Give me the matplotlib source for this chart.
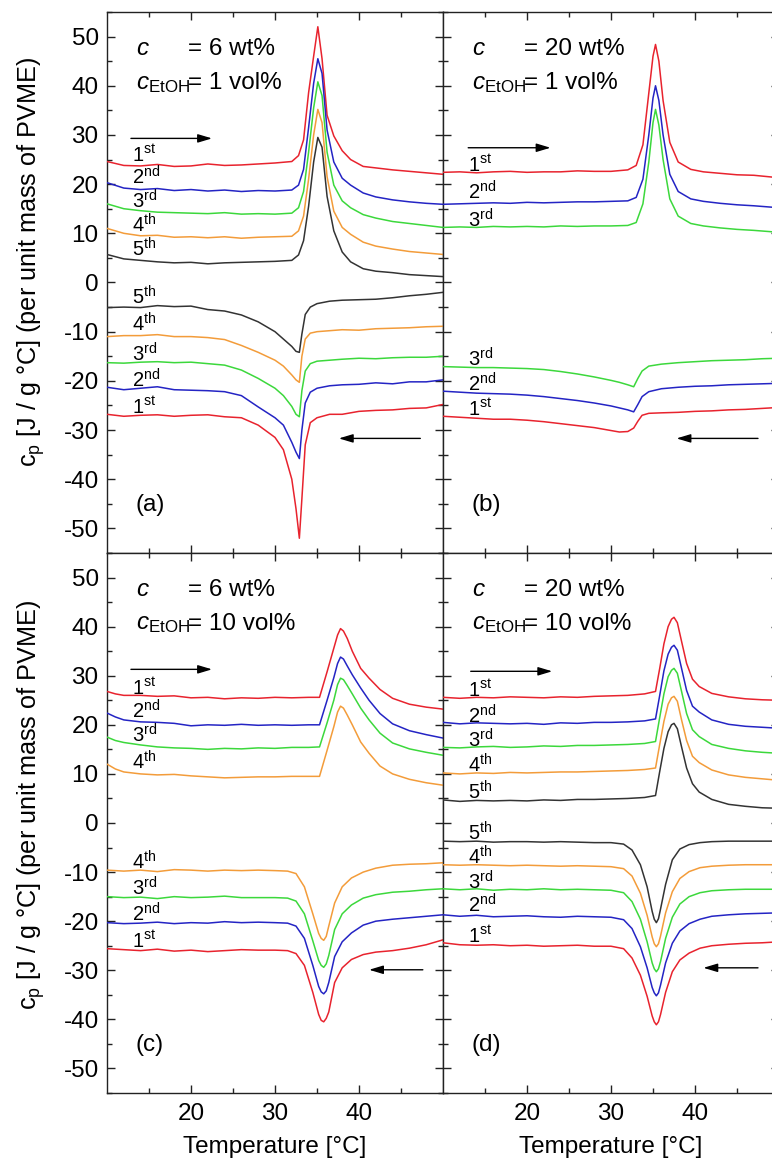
import matplotlib
matplotlib.use("Agg")
import matplotlib.pyplot as plt
from matplotlib.ticker import MultipleLocator, FixedLocator

# ======================================
# Data
# ======================================
# (a) c = 6 wt%, EtOH 1 vol%
xa_h = [10, 12, 14, 16, 18, 20, 22, 24, 26, 28, 30, 32, 32.8, 33.4, 34.0, 34.6, 35.1, 35.6,
        36.2, 37.0, 38.0, 39.0, 40.5, 42, 44, 46, 48, 50]
a_heat_1 = [24.6, 23.8, 23.7, 24.0, 23.6, 23.7, 24.1, 23.8, 23.9, 24.1, 24.3, 24.6, 25.8, 29.0,
            38.6, 46.0, 52.0, 45.5, 34.0, 29.8, 26.8, 25.0, 23.6, 23.3, 22.9, 22.6, 22.3, 22.0]
a_heat_2 = [20.3, 19.2, 18.9, 19.1, 18.7, 18.9, 18.6, 18.8, 18.5, 18.7, 18.6, 18.8, 19.8, 23.0,
            31.5, 40.5, 45.5, 42.5, 31.0, 24.5, 21.2, 19.8, 18.2, 17.4, 16.8, 16.4, 16.1, 15.9]
a_heat_3 = [16.0, 15.0, 14.6, 14.3, 14.2, 14.1, 14.0, 14.2, 13.9, 14.0, 13.9, 14.1, 15.2, 18.5,
            26.5, 35.5, 40.8, 38.0, 26.5, 19.8, 16.6, 15.2, 13.8, 13.1, 12.4, 12.0, 11.6, 11.2]
a_heat_4 = [11.0, 10.0, 9.5, 9.6, 9.2, 9.3, 9.1, 9.3, 9.0, 9.2, 9.3, 9.4, 10.5, 13.5,
            21.0, 30.0, 35.2, 32.5, 21.5, 14.5, 11.2, 9.8, 8.2, 7.4, 6.8, 6.3, 6.0, 5.7]
a_heat_5 = [5.7, 4.8, 4.5, 4.2, 4.0, 4.1, 3.8, 4.0, 4.1, 4.2, 4.3, 4.5, 5.6, 8.5,
            15.5, 24.5, 29.5, 27.5, 17.5, 10.5, 6.2, 4.2, 2.8, 2.3, 2.0, 1.6, 1.4, 1.2]

xa_c = [10, 12, 14, 16, 18, 20, 22, 24, 26, 28, 30, 31, 32, 32.5, 32.9, 33.2, 33.6, 34.2, 35,
        36.5, 38, 40, 42, 44, 46, 48, 50]
a_cool_1 = [-26.8, -27.2, -27.0, -26.9, -27.2, -27.0, -26.9, -27.3, -27.5, -29.0, -31.5, -34.0,
            -40.0, -46.0, -52.0, -44.0, -33.0, -28.5, -27.5, -26.8, -26.8, -26.2, -26.0, -25.9,
            -25.6, -25.5, -24.8]
a_cool_2 = [-21.3, -21.8, -21.5, -21.2, -21.8, -21.9, -22.0, -22.2, -23.0, -25.3, -27.5, -29.0,
            -32.5, -34.5, -35.8, -30.0, -24.5, -22.3, -21.5, -21.0, -20.8, -20.7, -20.4, -20.6,
            -20.2, -20.2, -19.8]
a_cool_3 = [-16.3, -16.4, -16.2, -16.1, -16.3, -16.2, -16.5, -16.8, -17.8, -19.5, -21.5, -23.0,
            -25.2, -26.8, -27.3, -22.0, -18.0, -16.5, -16.0, -15.8, -15.6, -15.4, -15.5, -15.3,
            -15.2, -15.2, -15.0]
a_cool_4 = [-11.0, -10.8, -10.8, -10.6, -11.0, -11.0, -11.2, -11.6, -12.8, -14.2, -15.8, -17.0,
            -18.8, -19.8, -20.3, -15.0, -11.5, -10.3, -10.0, -9.8, -9.6, -9.7, -9.4, -9.3,
            -9.2, -9.0, -8.9]
a_cool_5 = [-5.1, -5.0, -5.1, -4.7, -4.9, -4.8, -5.5, -5.8, -6.6, -8.0, -10.0, -11.5,
            -13.0, -14.0, -14.2, -10.5, -6.5, -5.0, -4.3, -3.8, -3.6, -3.5, -3.4, -3.1,
            -2.7, -2.4, -2.0]

# (b) c = 20 wt%, EtOH 1 vol%
xb_h = [10, 12, 14, 16, 18, 20, 22, 24, 26, 28, 30, 32, 33, 33.8, 34.5, 35.0, 35.3, 35.7, 36.2,
        37, 38, 39.5, 41, 43, 45, 47, 50]
b_heat_1 = [22.4, 22.5, 22.3, 22.5, 22.6, 22.4, 22.5, 22.5, 22.7, 22.6, 22.6, 22.9, 23.8, 28.0,
            38.5, 46.0, 48.4, 45.0, 37.0, 28.5, 24.5, 23.0, 22.5, 22.2, 21.9, 21.8, 21.3]
b_heat_2 = [15.9, 16.0, 16.1, 16.2, 16.1, 16.3, 16.2, 16.3, 16.4, 16.4, 16.5, 16.6, 17.3, 21.0,
            30.0, 37.5, 40.0, 37.0, 30.0, 22.0, 18.5, 17.0, 16.5, 16.1, 15.8, 15.6, 15.2]
b_heat_3 = [11.2, 11.3, 11.2, 11.4, 11.3, 11.4, 11.3, 11.5, 11.4, 11.5, 11.5, 11.6, 12.2, 16.0,
            24.5, 32.5, 35.2, 32.0, 25.0, 17.0, 13.5, 12.0, 11.5, 11.1, 10.8, 10.6, 10.2]

xb_c = [10, 12, 14, 16, 18, 20, 22, 24, 26, 28, 30, 31, 32, 32.7, 33.2, 33.7, 34.5, 36, 38, 40,
        42, 44, 46, 48, 50]
b_cool_1 = [-27.2, -27.4, -27.6, -27.8, -27.8, -28.0, -28.3, -28.7, -29.1, -29.5, -30.1, -30.4,
            -30.3, -29.6, -28.2, -27.0, -26.6, -26.5, -26.4, -26.2, -26.1, -25.9, -25.8, -25.6, -25.4]
b_cool_2 = [-22.1, -22.3, -22.5, -22.6, -22.7, -22.9, -23.2, -23.6, -24.0, -24.5, -25.1, -25.5,
            -25.9, -26.3, -24.8, -23.2, -22.2, -21.6, -21.3, -21.1, -21.0, -20.8, -20.7, -20.6, -20.5]
b_cool_3 = [-17.1, -17.2, -17.3, -17.3, -17.4, -17.5, -17.7, -18.1, -18.6, -19.2, -19.9, -20.3,
            -20.8, -21.2, -19.5, -18.0, -17.0, -16.6, -16.3, -16.1, -15.9, -15.8, -15.7, -15.5, -15.4]

# (c) c = 6 wt%, EtOH 10 vol%
xc_h = [10, 11, 12, 14, 16, 18, 20, 22, 24, 26, 28, 30, 32, 34, 35.3, 36.2, 37.0, 37.45, 37.8,
        38.15, 38.6, 39.2, 40.2, 41.2, 42.5, 44, 46, 48, 50]
c_heat_1 = [26.8, 26.3, 26.0, 26.0, 25.8, 25.9, 25.5, 25.6, 25.3, 25.5, 25.4, 25.6, 25.5, 25.6,
            25.6, 30.8, 35.6, 38.3, 39.6, 39.1, 37.6, 35.0, 31.5, 29.5, 27.2, 25.4, 24.2, 23.6, 23.2]
c_heat_2 = [22.4, 21.6, 21.0, 20.6, 20.5, 20.3, 19.8, 20.0, 19.9, 20.1, 19.9, 20.0, 19.9, 20.0,
            20.0, 25.0, 29.6, 32.5, 33.8, 33.4, 32.0, 30.2, 27.5, 25.0, 22.3, 20.2, 18.8, 18.0, 17.3]
c_heat_3 = [17.5, 16.8, 16.4, 15.9, 15.5, 15.3, 15.2, 15.0, 15.2, 15.1, 15.3, 15.2, 15.4, 15.4,
            15.5, 20.4, 25.0, 28.2, 29.5, 29.2, 28.0, 26.3, 23.4, 21.0, 18.3, 16.3, 15.1, 14.4, 13.8]
c_heat_4 = [12.0, 11.0, 10.4, 10.0, 9.8, 9.9, 9.6, 9.4, 9.2, 9.3, 9.4, 9.4, 9.5, 9.5,
            9.5, 14.8, 19.6, 22.6, 23.8, 23.4, 22.0, 20.0, 16.5, 14.2, 11.6, 10.0, 8.9, 8.2, 7.7]

xc_c = [10, 12, 14, 16, 18, 20, 22, 24, 26, 28, 30, 31.5, 32.5, 33.5, 34.5, 35.2, 35.5, 35.8,
        36.1, 36.4, 37.1, 38, 39.1, 40.5, 42, 44, 46, 48, 50]
c_cool_1 = [-25.6, -25.8, -26.0, -25.7, -26.1, -25.9, -26.2, -26.0, -25.8, -25.9, -25.9, -26.0,
            -26.6, -29.0, -34.5, -39.0, -40.2, -40.5, -39.8, -38.5, -32.5, -29.5, -27.8, -26.8,
            -26.3, -26.0, -25.5, -24.8, -23.8]
c_cool_2 = [-20.3, -20.5, -20.4, -20.2, -20.5, -20.3, -20.4, -20.1, -20.3, -20.2, -20.3, -20.4,
            -21.0, -23.5, -29.0, -33.3, -34.4, -34.8, -34.2, -32.5, -27.2, -24.2, -22.4, -20.8,
            -20.0, -19.6, -19.3, -19.0, -18.7]
c_cool_3 = [-15.0, -15.2, -15.1, -15.4, -15.0, -15.2, -15.1, -14.9, -15.2, -15.2, -15.2, -15.3,
            -15.9, -18.5, -24.0, -28.0, -29.0, -29.4, -28.7, -27.0, -21.7, -18.5, -16.7, -15.3,
            -14.6, -14.1, -13.9, -13.6, -13.4]
c_cool_4 = [-9.6, -9.8, -9.6, -9.9, -9.5, -9.6, -9.8, -9.6, -9.7, -9.6, -9.7, -9.8,
            -10.3, -13.0, -18.5, -22.5, -23.5, -23.9, -23.1, -21.0, -16.3, -13.0, -11.2, -10.0,
            -9.2, -8.6, -8.4, -8.3, -8.1]

# (d) c = 20 wt%, EtOH 10 vol%
xd_h = [10, 12, 14, 16, 18, 20, 22, 24, 26, 28, 30, 32, 34, 35.3, 35.8, 36.3, 36.8, 37.2, 37.5,
        37.9, 38.4, 39.0, 39.7, 40.5, 42, 44, 46, 48, 50]
d_heat_1 = [25.6, 25.4, 25.6, 25.5, 25.7, 25.6, 25.5, 25.7, 25.6, 25.8, 25.9, 26.0, 26.3, 26.8,
            31.5, 36.5, 40.0, 41.5, 41.9, 40.8, 37.0, 32.5, 29.3, 27.8, 26.4, 25.7, 25.3, 25.1, 25.0]
d_heat_2 = [20.5, 20.2, 20.4, 20.3, 20.2, 20.3, 20.1, 20.4, 20.3, 20.5, 20.5, 20.6, 20.8, 21.2,
            26.0, 31.0, 34.4, 35.8, 36.2, 35.2, 31.5, 27.0, 23.8, 22.6, 21.0, 20.1, 19.7, 19.5, 19.3]
d_heat_3 = [15.4, 15.3, 15.5, 15.6, 15.4, 15.5, 15.7, 15.6, 15.8, 15.8, 15.9, 16.0, 16.2, 16.6,
            21.5, 26.3, 29.8, 31.1, 31.5, 30.5, 26.8, 22.3, 19.0, 17.6, 16.0, 15.2, 14.7, 14.4, 14.2]
d_heat_4 = [10.2, 10.0, 10.2, 10.1, 10.3, 10.2, 10.3, 10.4, 10.4, 10.5, 10.6, 10.7, 10.9, 11.2,
            16.0, 20.7, 24.2, 25.5, 25.8, 24.8, 21.0, 16.8, 13.6, 12.3, 10.8, 9.8, 9.3, 9.0, 8.7]
d_heat_5 = [4.7, 4.4, 4.6, 4.5, 4.6, 4.5, 4.7, 4.6, 4.8, 4.8, 4.9, 5.0, 5.2, 5.6,
            10.5, 15.2, 18.6, 20.0, 20.3, 19.2, 15.5, 11.2, 8.0, 6.3, 4.8, 3.8, 3.4, 3.1, 3.0]

xd_c = [10, 12, 14, 16, 18, 20, 22, 24, 26, 28, 30, 31.5, 32.5, 33.5, 34.3, 34.9, 35.15, 35.4,
        35.65, 35.9, 36.5, 37.3, 38.2, 39.3, 40.6, 42, 44, 46, 48, 50]
d_cool_1 = [-24.4, -24.8, -24.9, -24.8, -25.0, -24.9, -25.1, -25.0, -24.9, -25.1, -25.1, -25.6,
            -27.5, -31.0, -35.3, -39.3, -40.5, -41.1, -40.5, -39.0, -34.5, -30.3, -27.9, -26.5,
            -25.5, -25.0, -24.7, -24.5, -24.4, -24.2]
d_cool_2 = [-18.7, -19.0, -18.8, -19.1, -19.0, -18.9, -19.1, -19.2, -19.0, -19.1, -19.2, -19.7,
            -21.5, -25.2, -29.5, -33.5, -34.6, -35.2, -34.6, -33.0, -28.5, -24.5, -22.0, -20.5,
            -19.6, -19.0, -18.7, -18.5, -18.4, -18.3]
d_cool_3 = [-13.4, -13.6, -13.4, -13.7, -13.5, -13.6, -13.4, -13.6, -13.5, -13.6, -13.7, -14.2,
            -16.0, -19.6, -24.2, -28.5, -29.7, -30.3, -29.7, -28.2, -23.5, -19.2, -16.5, -15.0,
            -14.2, -13.8, -13.6, -13.5, -13.5, -13.5]
d_cool_4 = [-8.5, -8.6, -8.5, -8.6, -8.7, -8.6, -8.7, -8.8, -8.7, -8.8, -8.9, -9.3,
            -10.8, -14.3, -18.8, -23.2, -24.6, -25.2, -24.6, -23.0, -18.3, -14.0, -11.3, -9.9,
            -9.1, -8.8, -8.6, -8.5, -8.5, -8.5]
d_cool_5 = [-3.7, -3.8, -3.7, -3.9, -3.8, -3.8, -3.9, -3.8, -3.9, -4.0, -4.0, -4.3,
            -5.5, -8.5, -13.0, -18.0, -19.6, -20.3, -19.5, -17.5, -12.5, -7.5, -5.3, -4.4,
            -4.0, -3.8, -3.7, -3.7, -3.7, -3.7]

run_names = [r"1$^{\rm st}$", r"2$^{\rm nd}$", r"3$^{\rm rd}$", r"4$^{\rm th}$", r"5$^{\rm th}$"]
conc_texts = ["= 6 wt%", "= 20 wt%", "= 6 wt%", "= 20 wt%"]
etoh_texts = ["= 1 vol%", "= 1 vol%", "= 10 vol%", "= 10 vol%"]
panel_tags = ["(a)", "(b)", "(c)", "(d)"]

# ======================================
# Style
# ======================================
plt.rcParams.update({
    "font.family": ["Liberation Sans", "DejaVu Sans"],
    "font.size": 17,
    "mathtext.fontset": "custom",
    "mathtext.rm": "Liberation Sans",
    "mathtext.it": "Liberation Sans:italic",
    "axes.unicode_minus": False,
})

run_colors = ["#e8232e", "#2424c4", "#3cd83c", "#f39c3a", "#333333"]

# ======================================
# Layout (2 x 2, panels touching, right column cut at the image edge)
# ======================================
W_px, H_px = 772, 1162
fig = plt.figure(figsize=(W_px / 100, H_px / 100), dpi=100, facecolor="white")

ax_w = 336 / W_px
x_left = 107 / W_px
x_right = 443 / W_px
top_b, top_h = 1 - 553 / H_px, 541 / H_px
bot_b, bot_h = 1 - 1093 / H_px, 540 / H_px

ax_a = fig.add_axes([x_left, top_b, ax_w, top_h])
ax_b = fig.add_axes([x_right, top_b, ax_w, top_h])
ax_c = fig.add_axes([x_left, bot_b, ax_w, bot_h])
ax_d = fig.add_axes([x_right, bot_b, ax_w, bot_h])

panels = [
    (ax_a, xa_h, [a_heat_1, a_heat_2, a_heat_3, a_heat_4, a_heat_5],
     xa_c, [a_cool_1, a_cool_2, a_cool_3, a_cool_4, a_cool_5]),
    (ax_b, xb_h, [b_heat_1, b_heat_2, b_heat_3],
     xb_c, [b_cool_1, b_cool_2, b_cool_3]),
    (ax_c, xc_h, [c_heat_1, c_heat_2, c_heat_3, c_heat_4],
     xc_c, [c_cool_1, c_cool_2, c_cool_3, c_cool_4]),
    (ax_d, xd_h, [d_heat_1, d_heat_2, d_heat_3, d_heat_4, d_heat_5],
     xd_c, [d_cool_1, d_cool_2, d_cool_3, d_cool_4, d_cool_5]),
]

# label baselines for each run (heating / cooling), per panel
heat_label_y = [[24.4, 19.9, 15.0, 10.2, 5.3], [22.4, 16.9, 11.2],
                [26.0, 21.2, 16.4, 10.8], [25.6, 20.3, 15.4, 10.2, 4.7]]
cool_label_y = [[-26.8, -21.3, -16.0, -10.0, -4.5], [-27.2, -22.1, -17.1],
                [-25.4, -20.1, -14.8, -9.4], [-24.4, -18.3, -13.6, -8.5, -3.5]]
heat_arrow = [(12.85, 22.5, 29.3), (13.0, 22.8, 27.4), (12.85, 22.5, 31.3), (13.3, 23.0, 30.9)]
cool_arrow = [(47.3, 37.6, -31.7), (47.5, 37.8, -31.7), (47.6, 41.2, -29.9), (47.5, 41.0, -29.5)]
arrow_style = "-|>,head_length=0.5,head_width=0.15"

for i, (ax, xh, heats, xc, cools) in enumerate(panels):
    for k, y in enumerate(heats):
        ax.plot(xh, y, color=run_colors[k], lw=1.1, zorder=3)
    for k, y in enumerate(cools):
        ax.plot(xc, y, color=run_colors[k], lw=1.1, zorder=3)

    # run labels
    for k, yl in enumerate(heat_label_y[i]):
        ax.text(13.0, yl, run_names[k], fontsize=14.5, ha="left", va="baseline", zorder=4)
    for k, yl in enumerate(cool_label_y[i]):
        ax.text(13.0, yl, run_names[k], fontsize=14.5, ha="left", va="baseline", zorder=4)

    # direction arrows
    x0, x1, ya = heat_arrow[i]
    ax.annotate("", xy=(x1, ya), xytext=(x0, ya),
                arrowprops=dict(arrowstyle=arrow_style, color="black", lw=1.0,
                                shrinkA=0, shrinkB=0))
    x0, x1, ya = cool_arrow[i]
    ax.annotate("", xy=(x1, ya), xytext=(x0, ya),
                arrowprops=dict(arrowstyle=arrow_style, color="black", lw=1.0,
                                shrinkA=0, shrinkB=0))

    # composition text
    ax.text(13.5, 46.3, r"$c$", ha="left", va="baseline", fontsize=17.5)
    ax.text(19.7, 46.3, conc_texts[i], ha="left", va="baseline", fontsize=17.5)
    ax.text(13.5, 39.4, r"$c_{\rm EtOH}$", ha="left", va="baseline", fontsize=17.5)
    ax.text(19.7, 39.4, etoh_texts[i], ha="left", va="baseline", fontsize=17.5)

    ax.text(13.4, -46.5, panel_tags[i], ha="left", va="baseline", fontsize=17.5)

    ax.set_xlim(10, 50)
    ax.set_ylim(-55, 55)
    ax.xaxis.set_major_locator(FixedLocator([20, 30, 40]))
    ax.xaxis.set_minor_locator(FixedLocator([15, 25, 35, 45]))
    ax.yaxis.set_major_locator(MultipleLocator(10))
    ax.yaxis.set_minor_locator(MultipleLocator(5))
    ax.tick_params(which="both", direction="in", top=True, right=True, width=1.0,
                   labelsize=17.5, color="#222222")
    ax.tick_params(which="major", length=6)
    ax.tick_params(which="minor", length=3.5)
    ax.tick_params(axis="y", pad=6)
    ax.tick_params(axis="x", pad=7)
    for sp in ax.spines.values():
        sp.set_linewidth(1.0)
        sp.set_color("#222222")

    if i in (1, 3):
        ax.set_yticklabels([])
    if i in (0, 1):
        ax.set_xticklabels([])
    else:
        ax.set_xlabel("Temperature [°C]", fontsize=17.5, labelpad=8)

ylab = r"c$_{\rm p}$ [J / g °C] (per unit mass of PVME)"
fig.text(31 / W_px, 1 - 262 / H_px, ylab, rotation=90, ha="center", va="center", fontsize=18.2)
fig.text(31 / W_px, 1 - 805 / H_px, ylab, rotation=90, ha="center", va="center", fontsize=18.2)

fig.savefig("out.png", dpi=100)
